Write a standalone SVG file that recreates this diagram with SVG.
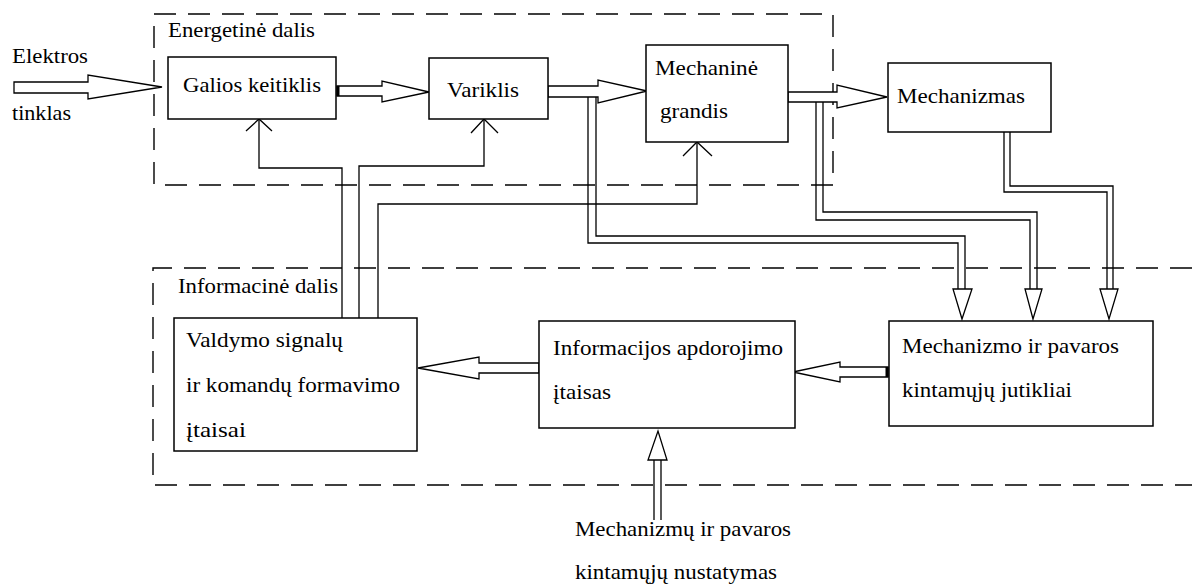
<svg xmlns="http://www.w3.org/2000/svg" width="1192" height="585" viewBox="0 0 1192 585">
<style>
  .bg{fill:#fff}
  .box{fill:#fff;stroke:#000;stroke-width:1.5}
  .dash{fill:none;stroke:#000;stroke-width:1.4;stroke-dasharray:22 12}
  .ln{fill:none;stroke:#000;stroke-width:1.3}
  .big{fill:#fff;stroke:#000;stroke-width:1.3;stroke-linejoin:miter}
  .chev{fill:none;stroke:#000;stroke-width:1.3}
  .thick{stroke:#000;stroke-width:3}
  .t{font-family:'Times New Roman',Times,'Liberation Serif','DejaVu Serif',serif;font-size:21px;fill:#000}
</style>
<rect class="bg" x="0" y="0" width="1192" height="585"/>

<g id="regions">
  <rect class="dash" x="154" y="14" width="679" height="171"/>
  <text class="t" x="168" y="37" textLength="147" lengthAdjust="spacingAndGlyphs">Energetinė dalis</text>
  <path class="dash" d="M1192,268 H153 V485 H1192"/>
  <text class="t" x="178" y="293" textLength="160" lengthAdjust="spacingAndGlyphs">Informacinė dalis</text>
</g>

<g id="connectors">
  <polyline class="ln" points="342,318 342,168 259,168 259,120"/>
  <polyline class="chev" points="246,131 259,119 272,131"/>
  <polyline class="ln" points="359,318 359,166 484,166 484,120"/>
  <polyline class="chev" points="471,133 484,119 498,133"/>
  <polyline class="ln" points="378,318 378,204 697,204 697,143"/>
  <polyline class="chev" points="683,156 697,142 712,156"/>

  <polyline class="ln" points="588,97 588,243 958,243 958,289"/>
  <polyline class="ln" points="596,97 596,236 965,236 965,289"/>
  <polygon class="big" points="953,289 972,289 962,319"/>

  <polyline class="ln" points="816,102 816,220 1030,220 1030,289"/>
  <polyline class="ln" points="823,102 823,212 1037,212 1037,289"/>
  <polygon class="big" points="1025,289 1042,289 1033,319"/>

  <polyline class="ln" points="1004,132 1004,192 1107,192 1107,289"/>
  <polyline class="ln" points="1010,132 1010,186 1113,186 1113,289"/>
  <polygon class="big" points="1100,289 1118,289 1109,319"/>

  <line class="ln" x1="654" y1="520" x2="654" y2="460"/>
  <line class="ln" x1="661" y1="520" x2="661" y2="460"/>
  <polygon class="big" points="648,460 667,460 658,431"/>

  <polygon class="big" points="14,82 88,82 88,75 162,87 88,99 88,93 14,93"/>
  <polygon class="big" points="337,86 382,86 382,81 429,92 382,102 382,96 337,96"/>
  <line class="thick" x1="338" y1="86" x2="338" y2="96"/>
  <polygon class="big" points="548,86 598,86 598,80 647,91 598,103 598,97 548,97"/>
  <polygon class="big" points="788,92 837,92 837,85 887,97 837,108 837,102 788,102"/>
  <polygon class="big" points="539,363 479,363 479,357 418,368 479,379 479,373 539,373"/>
  <polygon class="big" points="888,367 840,367 840,362 793,372 840,382 840,377 888,377"/>
  <line class="thick" x1="887" y1="367" x2="887" y2="377"/>
</g>

<g id="galios">
  <rect class="box" x="168" y="57" width="168" height="62"/>
  <text class="t" x="183" y="92" textLength="138" lengthAdjust="spacingAndGlyphs">Galios keitiklis</text>
</g>
<g id="variklis">
  <rect class="box" x="429" y="58" width="119" height="61"/>
  <text class="t" x="447" y="97" textLength="72" lengthAdjust="spacingAndGlyphs">Variklis</text>
</g>
<g id="mechanine">
  <rect class="box" x="646" y="45" width="142" height="97"/>
  <text class="t" x="655" y="75" textLength="103" lengthAdjust="spacingAndGlyphs">Mechaninė</text>
  <text class="t" x="660" y="118" textLength="68" lengthAdjust="spacingAndGlyphs">grandis</text>
</g>
<g id="mechanizmas">
  <rect class="box" x="888" y="63" width="163" height="69"/>
  <text class="t" x="897" y="103" textLength="128" lengthAdjust="spacingAndGlyphs">Mechanizmas</text>
</g>
<g id="valdymo">
  <rect class="box" x="174" y="318" width="243" height="133"/>
  <text class="t" x="186" y="347" textLength="157" lengthAdjust="spacingAndGlyphs">Valdymo signalų</text>
  <text class="t" x="186" y="392" textLength="214" lengthAdjust="spacingAndGlyphs">ir komandų formavimo</text>
  <text class="t" x="186" y="437" textLength="60" lengthAdjust="spacingAndGlyphs">įtaisai</text>
</g>
<g id="informacijos">
  <rect class="box" x="539" y="321" width="256" height="107"/>
  <text class="t" x="553" y="355" textLength="230" lengthAdjust="spacingAndGlyphs">Informacijos apdorojimo</text>
  <text class="t" x="553" y="399" textLength="58" lengthAdjust="spacingAndGlyphs">įtaisas</text>
</g>
<g id="jutikliai">
  <rect class="box" x="889" y="321" width="264" height="105"/>
  <text class="t" x="902" y="353" textLength="217" lengthAdjust="spacingAndGlyphs">Mechanizmo ir pavaros</text>
  <text class="t" x="902" y="397" textLength="170" lengthAdjust="spacingAndGlyphs">kintamųjų  jutikliai</text>
</g>
<g id="labels">
  <text class="t" x="12" y="63" textLength="76" lengthAdjust="spacingAndGlyphs">Elektros</text>
  <text class="t" x="12" y="120" textLength="59" lengthAdjust="spacingAndGlyphs">tinklas</text>
  <text class="t" x="575" y="536" textLength="216" lengthAdjust="spacingAndGlyphs">Mechanizmų ir pavaros</text>
  <text class="t" x="575" y="579" textLength="202" lengthAdjust="spacingAndGlyphs">kintamųjų nustatymas</text>
</g>
</svg>
